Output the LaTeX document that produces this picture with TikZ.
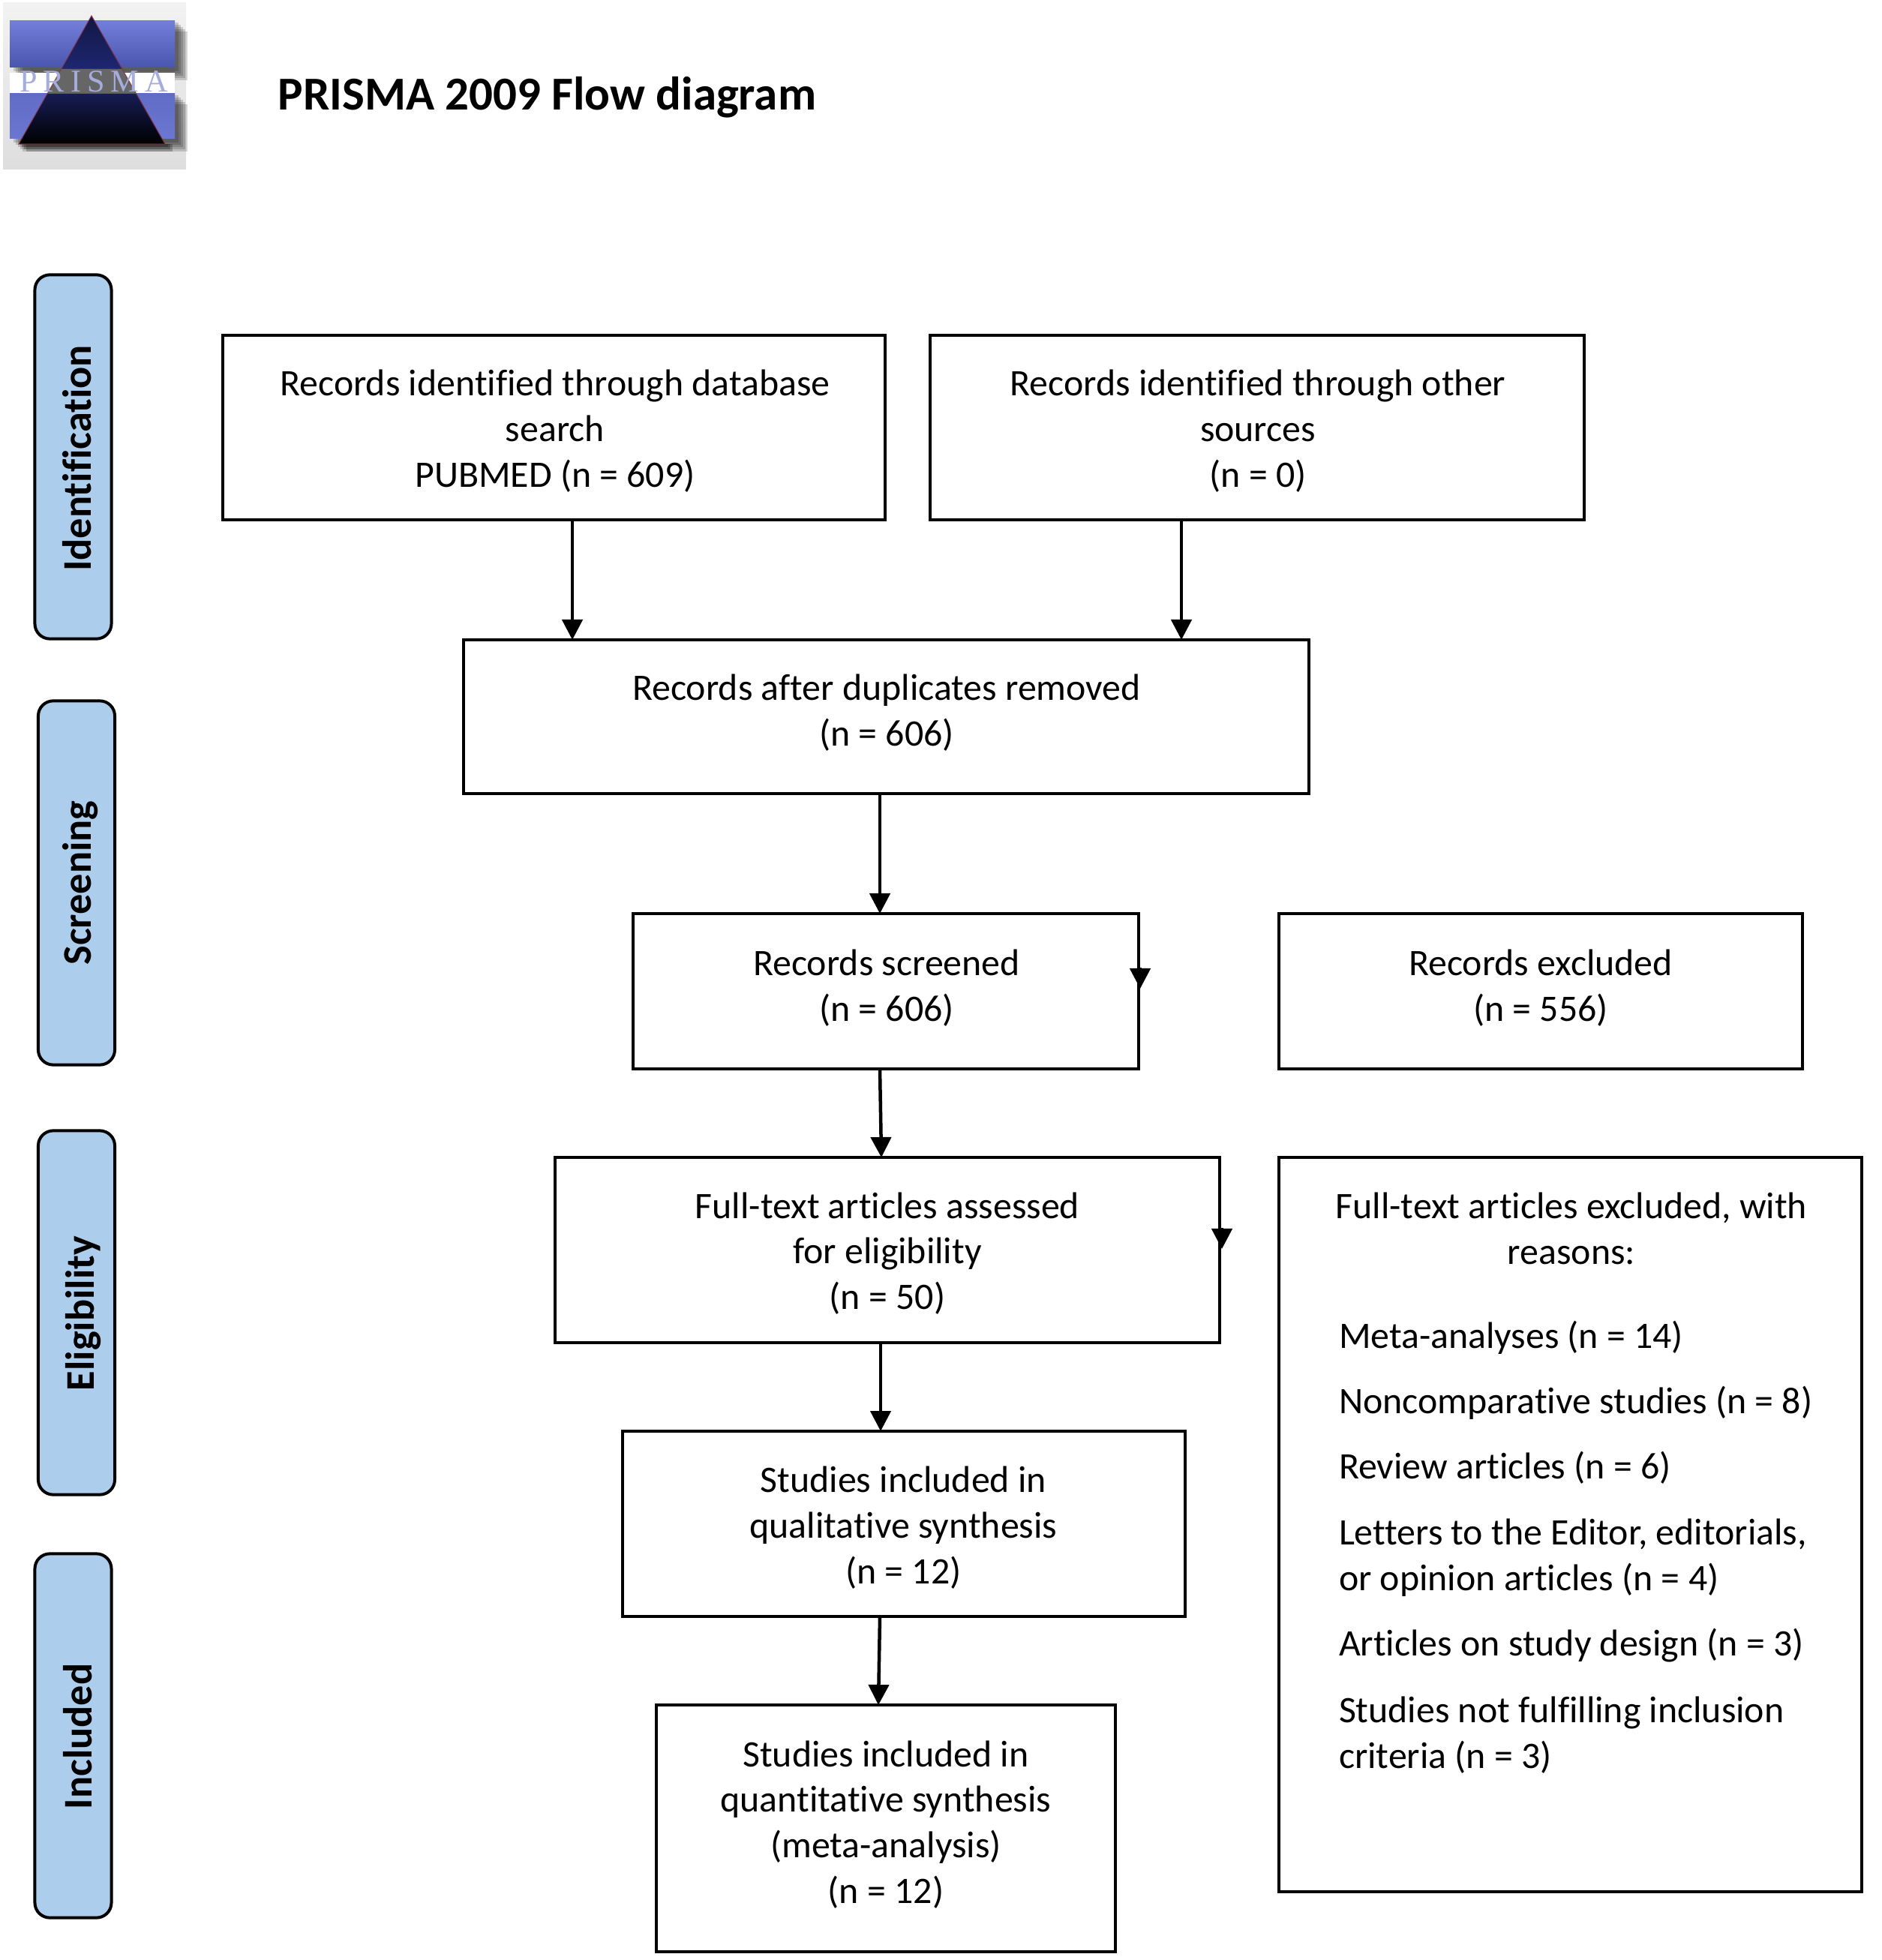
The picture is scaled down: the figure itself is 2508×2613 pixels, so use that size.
\documentclass[tikz,border=0pt]{standalone}
\usepackage{fontspec}
\setmainfont{Carlito}[Ligatures=NoCommon]
\newfontfamily\logofont{Liberation Serif}[LetterSpace=19]
\usetikzlibrary{arrows.meta,fit,calc}
\definecolor{pillblue}{HTML}{ADCDED}
\definecolor{logotop}{HTML}{727EDA}
\definecolor{logomid}{HTML}{4A55AE}
\definecolor{logobot}{HTML}{6A76D0}
\definecolor{logonavy}{HTML}{1E2670}
\definecolor{logogreyA}{HTML}{F2F2F2}
\definecolor{logogreyB}{HTML}{DEDEDE}
\definecolor{logotext}{HTML}{A6ACDC}
\definecolor{logored}{HTML}{8C3040}
\tikzset{
  box/.style={draw=black,line width=0.042cm,rectangle,inner sep=0pt,outer sep=0pt},
  txt/.style={font=\fontsize{14.17}{17.3}\selectfont,align=center,inner sep=0pt,outer sep=0pt},
  ltxt/.style={font=\fontsize{14.17}{17.3}\selectfont,align=left,inner sep=0pt,outer sep=0pt,anchor=west},
  pill/.style={draw=black,line width=0.04cm,fill=pillblue,rectangle,rounded corners=0.2cm,inner sep=0pt,outer sep=0pt,minimum width=1.02cm,minimum height=4.85cm},
  ptxt/.style={inner sep=0pt,outer sep=0pt,rotate=90,font=\fontsize{15.45}{17.3}\selectfont\bfseries},
  arr/.style={line width=0.045cm,draw=black,-{Triangle[width=0.27cm,length=0.27cm]}},
}
\begin{document}
\begin{tikzpicture}[x=0.01cm,y=-0.01cm]
\useasboundingbox (0,0) rectangle (2508,2613);
% logo
\path[top color=logogreyB,bottom color=logogreyA,shading angle=180] (4,4) rectangle (248,226);
\foreach \o in {17,14,11,8,5}{
  \fill[black,opacity=0.16] (13+\o,28+\o-3) rectangle (233+\o,90+\o);
  \fill[black,opacity=0.16] (13+\o,125+\o-3) rectangle (233+\o,185+\o);
}
\foreach \o in {10,7,4}{
  \fill[black,opacity=0.22] (25+\o,192) rectangle (220+\o,192+\o);
}
\fill[white] (13,97) rectangle (233,125);
\fill[black!65,opacity=0.6] (40,90) rectangle (233,97);
\path[top color=logomid,bottom color=logotop,shading angle=180] (13,28) rectangle (233,90);
\path[top color=logobot,bottom color=logobot!70!logomid,shading angle=180] (13,125) rectangle (233,185);
\path[top color=logonavy,bottom color=logonavy!60!black,shading angle=180] (122,21) -- (163,92) -- (82,92) -- cycle;
\fill[black!60] (82,92) -- (163,92) -- (182,125) -- (63,125) -- cycle;
\path[top color=black,bottom color=logonavy!75!black,shading angle=180] (63,125) -- (182,125) -- (220,192) -- (25,192) -- cycle;
\draw[logored,line width=0.012cm,opacity=0.7] (122,21) -- (220,192) -- (25,192) -- cycle;
\node (logotxt) [inner sep=0pt,font=\logofont\fontsize{12}{14}\selectfont,text=logotext] at (125,109) {PRISMA};
% title
\node (title) [inner sep=0pt,anchor=west,font=\fontsize{17.9}{20}\selectfont\bfseries] at (370,129.5) {PRISMA 2009 Flow diagram};
% phase pills
\node (pid) [pill] at (97.5,609) {};
\node (psc) [pill] at (102,1177) {};
\node (pel) [pill] at (102,1750) {};
\node (pin) [pill] at (97.5,2314) {};
\node (pidt) [ptxt] at (103,611) {Identification};
\node (psct) [ptxt] at (107,1177) {Screening};
\node (pelt) [ptxt] at (111,1751) {Eligibility};
\node (pint) [ptxt] at (104,2315) {Included};
% boxes
\node (db) [box,fit={(297,447) (1180,693)}] {};
\node (ot) [box,fit={(1240,447) (2112,693)}] {};
\node (du) [box,fit={(618,853) (1745,1058)}] {};
\node (sc) [box,fit={(844,1218) (1518,1425)}] {};
\node (ex) [box,fit={(1705,1218) (2403,1425)}] {};
\node (fu) [box,fit={(740,1543) (1626,1790)}] {};
\node (fx) [box,fit={(1705,1543) (2482,2522)}] {};
\node (ql) [box,fit={(830,1908) (1580,2155)}] {};
\node (qn) [box,fit={(875,2273) (1487,2602)}] {};
% box texts
\node (dbt) [txt] at (740,574.4) {Records identified through database\\search\\PUBMED (n = 609)};
\node (ott) [txt] at (1677,574.4) {Records identified through other\\sources\\(n = 0)};
\node (dut) [txt] at (1182,950.3) {Records after duplicates removed\\(n = 606)};
\node (sct) [txt] at (1182,1317) {Records screened\\(n = 606)};
\node (ext) [txt] at (2054,1317) {Records excluded\\(n = 556)};
\node (fut) [txt] at (1183,1671) {Full-text articles assessed\\for eligibility\\(n = 50)};
\node (qlt) [txt] at (1204.5,2036.5) {Studies included in\\qualitative synthesis\\(n = 12)};
\node (qnt) [txt] at (1181,2432.5) {Studies included in\\quantitative synthesis\\(meta-analysis)\\(n = 12)};
\node (fxt) [txt] at (2095,1638) {Full-text articles excluded, with\\reasons:};
\node (r1) [ltxt] at (1785,1783.4) {Meta-analyses (n = 14)};
\node (r2) [ltxt] at (1785,1870) {Noncomparative studies (n = 8)};
\node (r3) [ltxt] at (1785,1956.7) {Review articles (n = 6)};
\node (r4) [ltxt] at (1785,2077) {Letters to the Editor, editorials,\\or opinion articles (n = 4)};
\node (r5) [ltxt] at (1785,2193.4) {Articles on study design (n = 3)};
\node (r6) [ltxt] at (1785,2313.5) {Studies not fulfilling inclusion\\criteria (n = 3)};
% connector guides
\coordinate (xa) at (763,0);
\coordinate (xb) at (1575,0);
\coordinate (xc) at (1173,0);
\coordinate (xd) at (1173,0);
\coordinate (xe) at (1175,0);
\coordinate (xf) at (1174,0);
\coordinate (xg) at (1173,0);
\coordinate (xh) at (1171,0);
\coordinate (s1) at (1520,1290);
\coordinate (e1) at (1520,1318);
\coordinate (s2) at (1629,1637);
\coordinate (e2) at (1629,1665);
\draw[arr] (db.south -| xa) -- (du.north -| xa);
\draw[arr] (ot.south -| xb) -- (du.north -| xb);
\draw[arr] (du.south -| xc) -- (sc.north -| xc);
\draw[arr] (sc.south -| xd) -- (fu.north -| xe);
\draw[arr] (fu.south -| xf) -- (ql.north -| xf);
\draw[arr] (ql.south -| xg) -- (qn.north -| xh);
\draw[arr] (s1) -- (e1);
\draw[arr] (s2) -- (e2);
\end{tikzpicture}
\end{document}
